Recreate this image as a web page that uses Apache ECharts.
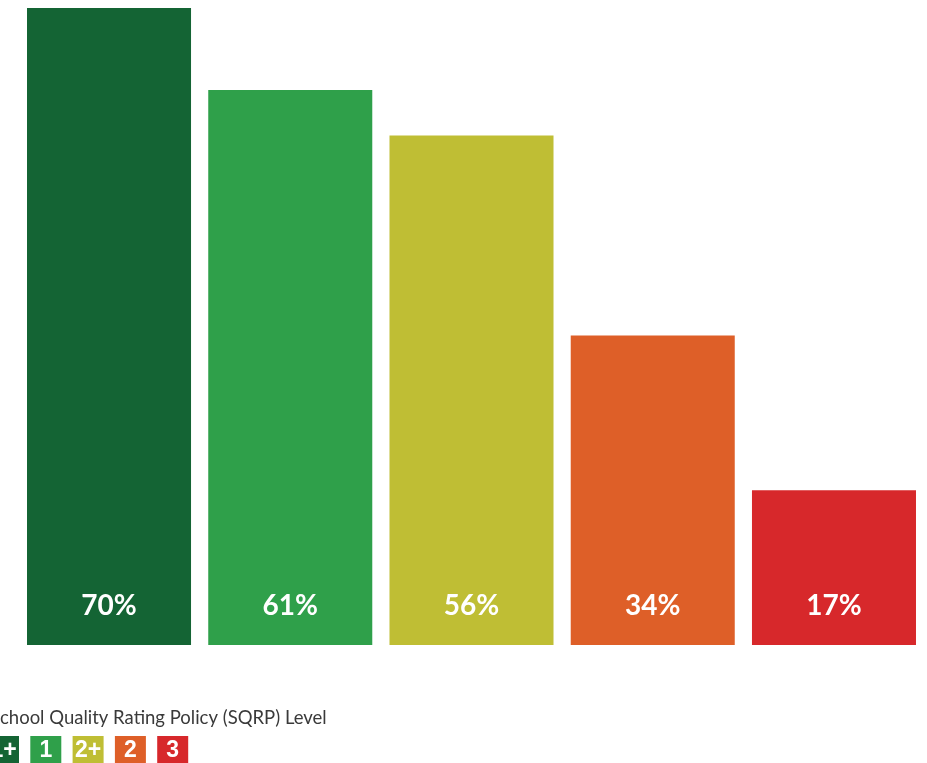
<!DOCTYPE html>
<html>
<head>
<meta charset="utf-8">
<script src="https://cdn.jsdelivr.net/npm/echarts@6/dist/echarts.min.js"></script>
<style>
  html, body { margin: 0; padding: 0; background: #fff; }
  #main { width: 927px; height: 763px; }
</style>
</head>
<body>
<div id="main"></div>
<script>
// 数据
var levels = ['1+', '1', '2+', '2', '3'];
var values = [70, 61, 56, 34, 17];
var colors = ['#146434', '#2fa04a', '#bfbe34', '#de5f28', '#d7282b'];
var legendTitle = 'School Quality Rating Policy (SQRP) Level';

var myChart = echarts.init(document.getElementById('main'));

// 图例：色块 + 文字
var legendItems = [];
levels.forEach(function (lv, i) {
    var x = -12 + i * 42.3;
    legendItems.push({
        type: 'rect',
        shape: { x: x, y: 736, width: 31, height: 27 },
        style: { fill: colors[i] }
    });
    legendItems.push({
        type: 'text',
        x: x + 15.5,
        y: 751,
        style: {
            text: lv,
            fill: '#fff',
            font: 'bold 23px "Liberation Sans", Arial, sans-serif',
            align: 'center',
            verticalAlign: 'middle'
        }
    });
});
legendItems.push({
    type: 'text',
    x: -10,
    y: 718,
    style: {
        text: legendTitle,
        fill: '#3a3a3a',
        font: '18.5px Lato, sans-serif',
        verticalAlign: 'middle'
    }
});

var option = {
    animation: false,
    grid: { left: 18.4, right: 2.4, top: 8, bottom: 118 },
    xAxis: {
        type: 'category',
        data: levels,
        axisLine: { show: false },
        axisTick: { show: false },
        axisLabel: { show: false }
    },
    yAxis: {
        type: 'value',
        min: 0,
        max: 70,
        show: false,
        splitLine: { show: false }
    },
    series: [{
        type: 'bar',
        barCategoryGap: '9.5%',
        data: values.map(function (v, i) {
            return { value: v, itemStyle: { color: colors[i] } };
        }),
        label: {
            show: true,
            position: 'insideBottom',
            distance: 25,
            formatter: '{c}%',
            color: '#fff',
            fontFamily: 'Lato',
            fontWeight: 'bold',
            fontSize: 28
        }
    }],
    graphic: legendItems
};

myChart.setOption(option);
</script>
</body>
</html>
